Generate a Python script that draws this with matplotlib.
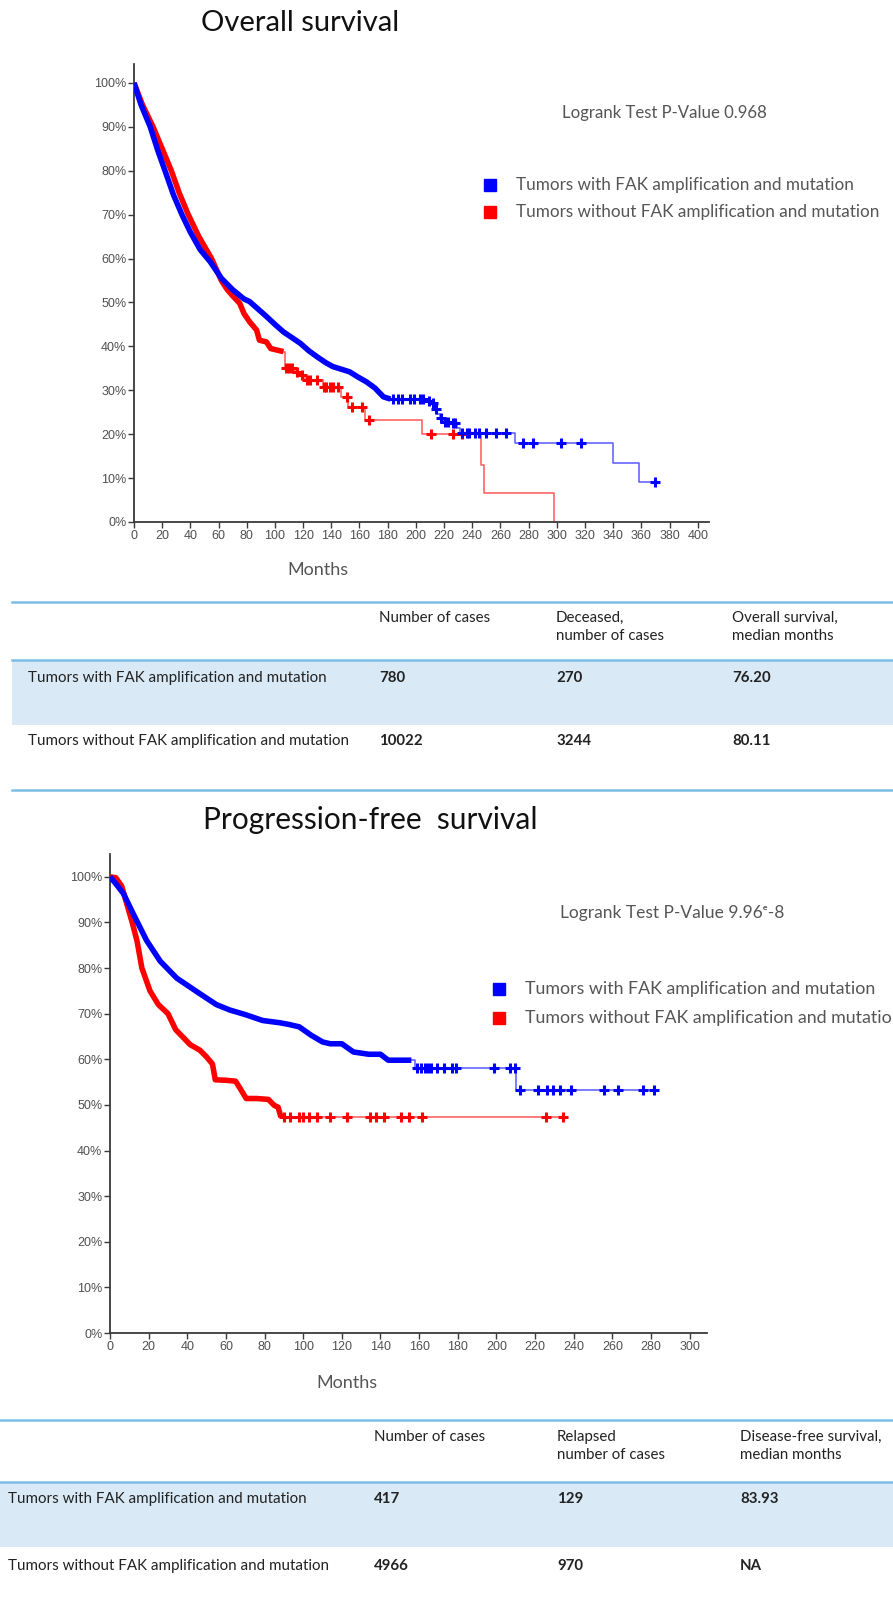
import numpy as np
import matplotlib
matplotlib.use('Agg')
import matplotlib.pyplot as plt
from matplotlib.patches import Rectangle
from matplotlib.lines import Line2D

W, H = 893, 1607
BLUE = '#0000ff'
RED = '#ff0000'
GREY = '#555555'
RULE = '#7cbde8'
BAND = '#d9eaf6'

# ---------------- overall survival ----------------
# heavily censored early part (months, survival %)
os_blue_dense_t = [0, 5, 11.5, 17, 22, 28, 34, 40, 47, 54, 62, 70, 78, 82, 88, 94, 100,
                   106, 112, 118, 124, 130, 136, 141, 147, 153, 159, 165, 171, 177, 182]
os_blue_dense_s = [100, 95, 90, 84.5, 80, 74.5, 70, 66, 62, 59.3, 55.5, 52.9, 50.8, 50.2, 48.5,
                   46.8, 45, 43.3, 42, 40.7, 39, 37.6, 36.3, 35.4, 34.8, 34.2, 33, 31.9, 30.5,
                   28.5, 28]
# sparse tail as steps
os_blue_tail_t = [182, 208, 211, 213, 215, 217, 219, 222, 226, 229, 231, 270, 340, 358]
os_blue_tail_s = [28, 27.5, 27, 25.8, 24.5, 23.6, 22.8, 22.8, 22.5, 21.5, 20.2, 18.1, 13.5, 9]
os_blue_end = 370
os_blue_cens = [184, 187, 190, 196, 199, 203, 205, 209, 212, 214, 218, 221, 223, 226, 228,
                233, 236, 238, 242, 245, 250, 257, 264, 276, 283, 303, 317, 370]

os_red_dense_t = [0, 6, 13.5, 20, 26.5, 32, 38.5, 46, 55, 62, 66, 70, 75, 78, 82, 87, 89,
                  94, 97, 106]
os_red_dense_s = [100, 95, 90, 85, 80, 75, 70, 65, 60, 55, 53, 51.5, 49.8, 47.5, 45.6, 43.7,
                  41.4, 41, 39.5, 38.8]
os_red_tail_t = [106, 107, 114, 117, 121, 134, 147, 152, 164, 204, 246, 248, 298]
os_red_tail_s = [38.8, 35, 34.2, 33.5, 32.3, 30.8, 28.5, 26.2, 23.2, 20, 13, 6.5, 0]
os_red_end = 298
os_red_cens = [108, 110, 112, 116, 119, 123, 125, 130, 134.5, 136, 139, 141, 145, 151, 155,
               162, 167, 211, 226, 233]

# ---------------- progression-free survival ----------------
pfs_blue_dense_t = [0, 3, 7, 12, 19, 26, 34.5, 45, 55, 62, 70, 79, 88, 93, 98, 104, 110,
                    114, 120, 126, 134, 140, 144, 156]
pfs_blue_dense_s = [100, 98.5, 96.3, 91.9, 86, 81.5, 77.8, 74.8, 72, 70.8, 69.8, 68.5, 68,
                    67.6, 67.1, 65.3, 63.8, 63.4, 63.4, 61.6, 61.1, 61.1, 59.8, 59.8]
pfs_blue_tail_t = [156, 158, 210]
pfs_blue_tail_s = [59.8, 58.1, 53.3]
pfs_blue_end = 282
pfs_blue_cens = [159, 161, 163, 164.5, 166, 169, 173, 177, 179, 199, 207, 209.5, 212,
                 221.5, 226, 229.5, 233, 238.5, 255.5, 263, 276, 281.5]

pfs_red_dense_t = [0, 3, 6, 11.5, 14, 16.5, 20.7, 25, 30, 34, 41.5, 46.5, 50, 53, 54.5,
                   60, 65, 67.5, 70.5, 76, 82, 85, 87, 88.5]
pfs_red_dense_s = [100, 99.8, 98, 90, 85.9, 80, 75, 72, 70, 66.5, 63.2, 62, 60.5, 59,
                   55.5, 55.4, 55.2, 53.5, 51.4, 51.4, 51.2, 49.9, 49.5, 47.3]
pfs_red_tail_t = [88.5]
pfs_red_tail_s = [47.3]
pfs_red_end = 234.6
pfs_red_cens = [90, 93, 98, 100, 103, 107, 114, 122.8, 134.6, 137.6, 141.6, 150.5, 155,
                161.4, 225.7, 234.6]

group_labels = ['Tumors with FAK amplification and mutation',
                'Tumors without FAK amplification and mutation']
os_header = ['Number of cases', 'Deceased,\nnumber of cases',
             'Overall survival,\nmedian months']
os_rows = [['780', '270', '76.20'], ['10022', '3244', '80.11']]
pfs_header = ['Number of cases', 'Relapsed\nnumber of cases',
              'Disease-free survival,\nmedian months']
pfs_rows = [['417', '129', '83.93'], ['4966', '970', 'NA']]

plt.rcParams['font.family'] = ['Lato', 'DejaVu Sans']

fig = plt.figure(figsize=(W / 100, H / 100), dpi=100)


def fx(x):
    return x / W


def fy(y):
    return 1 - y / H


def step_at(t_knots, s_knots, times):
    idx = np.searchsorted(t_knots, times, side='right') - 1
    return np.asarray(s_knots)[idx]


def km_curve(ax, dense_t, dense_s, tail_t, tail_s, t_end, cens, color, z):
    ax.plot(dense_t, dense_s, color=color, lw=4.0, solid_capstyle='butt',
            solid_joinstyle='round', zorder=z + 1)
    tt = list(tail_t) + [t_end]
    ss = list(tail_s) + [tail_s[-1]]
    ax.plot(tt, ss, drawstyle='steps-post', color=color, lw=1.1, alpha=0.65, zorder=z)
    ax.plot(cens, step_at(tail_t, tail_s, cens), ls='none', marker='+', ms=6.5, mew=2.2,
            color=color, zorder=z + 1)


def make_axes(x0, x1, y_top, y_zero, xmax, ymax, xticks):
    ax = fig.add_axes([fx(x0), fy(y_zero), (x1 - x0) / W, (y_zero - y_top) / H])
    ax.set_xlim(0, xmax)
    ax.set_ylim(0, ymax)
    ax.set_xticks(xticks)
    yt = list(range(0, 101, 10))
    ax.set_yticks(yt)
    ax.set_yticklabels(['%d%%' % v for v in yt])
    for s in ['top', 'right']:
        ax.spines[s].set_visible(False)
    for s in ['left', 'bottom']:
        ax.spines[s].set_color('#3a3a3a')
        ax.spines[s].set_linewidth(1.3)
    ax.tick_params(length=4, width=1, colors='#3a3a3a', labelcolor='#505050', pad=1.5)
    for lab in ax.get_xticklabels() + ax.get_yticklabels():
        lab.set_family('Liberation Sans')
        lab.set_fontsize(9)
    ax.patch.set_alpha(0)
    return ax


def legend_block(x_sq, x_txt, ys, size):
    for y, c, lab in zip(ys, [BLUE, RED], group_labels):
        fig.add_artist(Rectangle((fx(x_sq - 6), fy(y + 6)), 12 / W, 12 / H,
                                 transform=fig.transFigure, color=c))
        fig.text(fx(x_txt), fy(y), lab, ha='left', va='center', fontsize=size, color=GREY)


def table_block(x_left, y_top, y_mid, y_band, y_bottom, hdr_y, col_x, row_y, lab_x,
                header, rows):
    def rule(y):
        fig.add_artist(Line2D([fx(x_left), 1], [fy(y), fy(y)], transform=fig.transFigure,
                              color=RULE, lw=1.8))
    fig.add_artist(Rectangle((fx(x_left), fy(y_band)), 1 - fx(x_left),
                             (y_band - y_mid) / H, transform=fig.transFigure,
                             color=BAND, lw=0))
    rule(y_top)
    rule(y_mid)
    if y_bottom is not None:
        rule(y_bottom)
    for x, h in zip(col_x, header):
        fig.text(fx(x), fy(hdr_y), h, ha='left', va='top', fontsize=10.8, color='#222222',
                 linespacing=1.35)
    for y, lab, vals in zip(row_y, group_labels, rows):
        fig.text(fx(lab_x), fy(y), lab, ha='left', va='center', fontsize=10.9,
                 color='#222222')
        for x, v in zip(col_x, vals):
            fig.text(fx(x), fy(y), v, ha='left', va='center', fontsize=10.8,
                     fontweight='bold', color='#222222')


# ---- overall survival panel ----
fig.text(fx(300), fy(23), 'Overall survival', ha='center', va='center', fontsize=21,
         color='#111111')
ax1 = make_axes(134, 709, 64, 522, 408, 104.3, list(range(0, 401, 20)))
km_curve(ax1, os_red_dense_t, os_red_dense_s, os_red_tail_t, os_red_tail_s, os_red_end,
         os_red_cens, RED, 2)
km_curve(ax1, os_blue_dense_t, os_blue_dense_s, os_blue_tail_t, os_blue_tail_s,
         os_blue_end, os_blue_cens, BLUE, 4)
fig.text(fx(318), fy(570), 'Months', ha='center', va='center', fontsize=13, color=GREY)
fig.text(fx(562), fy(113), 'Logrank Test P-Value 0.968', ha='left', va='center',
         fontsize=12.1, color=GREY)
legend_block(490, 516, [185, 212], 12.3)
table_block(12, 602, 660, 725, 790, 611, [379, 556, 732], [678, 741], 28,
            os_header, os_rows)

# ---- progression-free survival panel ----
fig.text(fx(370), fy(820), 'Progression-free  survival', ha='center', va='center',
         fontsize=21.5, color='#111111')
ax2 = make_axes(110, 707, 854, 1333, 309, 105, list(range(0, 301, 20)))
km_curve(ax2, pfs_red_dense_t, pfs_red_dense_s, pfs_red_tail_t, pfs_red_tail_s,
         pfs_red_end, pfs_red_cens, RED, 2)
km_curve(ax2, pfs_blue_dense_t, pfs_blue_dense_s, pfs_blue_tail_t, pfs_blue_tail_s,
         pfs_blue_end, pfs_blue_cens, BLUE, 4)
fig.text(fx(347), fy(1383), 'Months', ha='center', va='center', fontsize=13, color=GREY)
fig.text(fx(560), fy(913), 'Logrank Test P-Value 9.96\u1d49-8', ha='left', va='center',
         fontsize=12.5, color=GREY)
# the second legend entry runs past the right edge of the figure
legend_block(499, 525, [989, 1018], 12.8)
table_block(0, 1420, 1482, 1547, None, 1430, [374, 557, 740], [1499, 1566], 8,
            pfs_header, pfs_rows)

fig.savefig('out.png', dpi=100)
